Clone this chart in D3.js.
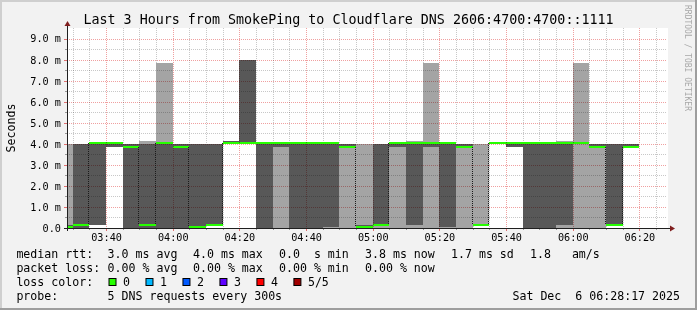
<!DOCTYPE html>
<html>
<head>
<meta charset="utf-8">
<script src="https://cdn.jsdelivr.net/npm/d3@7"></script>
<style>
  html, body { margin: 0; padding: 0; background: #f2f2f2; }
  svg { display: block; }
  text { font-family: 'DejaVu Sans Mono', monospace; fill: #000; white-space: pre; }
</style>
</head>
<body>
<svg id="chart" width="697" height="310"></svg>
<script>
// one column per 300s step, 5 DNS requests each, sorted low -> high (ms)
const stepEnds = ['03:30', '03:35', '03:40', '03:45', '03:50', '03:55', '04:00', '04:05', '04:10', '04:15',
  '04:20', '04:25', '04:30', '04:35', '04:40', '04:45', '04:50', '04:55', '05:00', '05:05',
  '05:10', '05:15', '05:20', '05:25', '05:30', '05:35', '05:40', '05:45', '05:50', '05:55',
  '06:00', '06:05', '06:10', '06:15', '06:20'];
const ping1 = [0, 0, 0.14, 3.87, 0, 0, 0, 0, 0, 0.12,
  4.0, 4.0, 0, 0, 0, 0, 0, 0, 0, 0,
  0, 0, 0, 0, 0, 0.14, 4.02, 3.87, 0, 0,
  0, 0, 0, 0.12, 3.87];
const ping2 = [0, 0, 0.14, 3.87, 0, 0, 0, 0, 0, 0.12,
  4.0, 4.0, 0, 3.87, 0, 0, 0.04, 3.87, 0.02, 0.09,
  3.87, 0.14, 3.87, 0.04, 3.87, 0.14, 4.02, 3.87, 0, 0,
  0.14, 4.02, 3.87, 0.12, 3.87];
const medianRtt = [0.04, 0.14, 4.02, 4.02, 3.87, 0.14, 4.02, 3.87, 0.03, 0.14,
  4.02, 4.02, 4.02, 4.02, 4.02, 4.02, 4.02, 3.87, 0.03, 0.14,
  4.02, 4.02, 4.02, 4.02, 3.87, 0.14, 4.02, 4.02, 4.02, 4.02,
  4.02, 4.02, 3.87, 0.14, 3.87];
const ping4 = [0.14, 4.0, 4.02, 4.02, 4.0, 4.0, 4.02, 4.0, 4.0, 4.0,
  4.14, 8.0, 4.02, 4.02, 4.02, 4.02, 4.02, 4.0, 0.14, 4.0,
  4.02, 4.02, 4.02, 4.02, 4.0, 0.14, 4.02, 4.02, 4.02, 4.02,
  4.02, 4.02, 4.0, 4.0, 4.0];
const ping5 = [4.0, 4.0, 4.02, 4.02, 4.0, 4.14, 7.86, 4.0, 4.0, 4.0,
  4.14, 8.0, 4.02, 4.02, 4.02, 4.02, 4.02, 4.0, 4.0, 4.0,
  4.02, 4.14, 7.86, 4.02, 4.0, 4.0, 4.02, 4.02, 4.02, 4.02,
  4.14, 7.86, 4.0, 4.0, 4.0];

const yTicks = [0, 1, 2, 3, 4, 5, 6, 7, 8, 9];
const xTickLabels = ['03:40', '04:00', '04:20', '04:40', '05:00', '05:20', '05:40', '06:00', '06:20'];

const lossLabels = ['0', '1', '2', '3', '4', '5/5'];
const lossColors = ['#26ff00', '#00b8ff', '#0059ff', '#5e00ff', '#ff0000', '#a10000'];

const rttStats = ['median rtt:', '3.0 ms avg', '4.0 ms max', '0.0  s min', '3.8 ms now', '1.7 ms sd', '1.8   am/s'];
const lossStats = ['packet loss:', '0.00 % avg', '0.00 % max', '0.00 % min', '0.00 % now'];
const probeText = ['probe:', '5 DNS requests every 300s'];
const stampText = 'Sat Dec  6 06:28:17 2025';
const titleText = 'Last 3 Hours from SmokePing to Cloudflare DNS 2606:4700:4700::1111';

const day = '2025-12-06 ';
const parseTime = d3.utcParse('%Y-%m-%d %H:%M:%S');
const t = s => parseTime(day + (s.length === 5 ? s + ':00' : s));
const start = t('03:28:17');
const end = t('06:28:17');

const plot = { left: 67, top: 28, right: 667, bottom: 228 };
const smokeLight = '#a4a4a4';
const smokeDark = '#585858';

const svg = d3.select('#chart');

// frame
svg.append('rect').attr('width', 697).attr('height', 310).attr('fill', '#f2f2f2');
svg.append('path').attr('d', 'M0,0H697V2H2V310H0Z').attr('fill', '#cfcfcf');
svg.append('path').attr('d', 'M697,0V310H0V308H695V0Z').attr('fill', '#9e9e9e');

const x = d3.scaleUtc().domain([start, end]).range([plot.left, plot.right]);
const y = d3.scaleLinear().domain([0, 9.5]).range([plot.bottom, plot.top]);

svg.append('rect')
  .attr('x', plot.left).attr('y', plot.top)
  .attr('width', plot.right - plot.left + 1).attr('height', plot.bottom - plot.top)
  .attr('fill', '#fff');

const minorTimes = d3.utcMinute.every(5).range(start, end);
const majorTimes = xTickLabels.map(t);
const isMajor = d => d.getUTCMinutes() % 20 === 0;

// vertical minor grid sits under the smoke
svg.append('g').selectAll('line')
  .data(minorTimes.filter(d => !isMajor(d)))
  .enter().append('line')
  .attr('x1', d => Math.round(x(d)) + 0.5).attr('x2', d => Math.round(x(d)) + 0.5)
  .attr('y1', plot.top).attr('y2', plot.bottom)
  .attr('stroke', '#c8c8c8').attr('stroke-dasharray', '1,1');

const cols = stepEnds.map((s, i) => {
  const e = t(s);
  return {
    x0: Math.max(plot.left, Math.round(x(d3.utcMinute.offset(e, -5)))),
    x1: Math.round(x(e)),
    p1: ping1[i], p2: ping2[i], med: medianRtt[i], p4: ping4[i], p5: ping5[i]
  };
});

const smoke = svg.append('g').attr('shape-rendering', 'crispEdges');

// outer band: lowest to highest ping
smoke.selectAll('.outer').data(cols).enter().append('rect')
  .attr('x', d => d.x0).attr('width', d => d.x1 - d.x0)
  .attr('y', d => Math.round(y(d.p5))).attr('height', d => Math.round(y(d.p1)) - Math.round(y(d.p5)))
  .attr('fill', smokeLight);

// inner band: 2nd to 4th ping
smoke.selectAll('.inner').data(cols).enter().append('rect')
  .attr('x', d => d.x0).attr('width', d => d.x1 - d.x0)
  .attr('y', d => Math.round(y(d.p4))).attr('height', d => Math.round(y(d.p2)) - Math.round(y(d.p4)))
  .attr('fill', smokeDark);

// median, coloured by loss (all zero here)
smoke.selectAll('.median').data(cols).enter().append('rect')
  .attr('x', d => d.x0).attr('width', d => d.x1 - d.x0)
  .attr('y', d => Math.round(y(d.med)) - 1).attr('height', 2)
  .attr('fill', lossColors[0]);

// the rest of the grid is painted over the graph
const grid = svg.append('g').style('mix-blend-mode', 'multiply');
grid.selectAll('.hmin').data(d3.range(0.5, 9.5, 1)).enter().append('line')
  .attr('x1', plot.left).attr('x2', plot.right)
  .attr('y1', d => Math.round(y(d)) + 0.5).attr('y2', d => Math.round(y(d)) + 0.5)
  .attr('stroke', '#c8c8c8').attr('stroke-dasharray', '1,1');
grid.selectAll('.hmaj').data(yTicks.slice(1)).enter().append('line')
  .attr('x1', plot.left).attr('x2', plot.right)
  .attr('y1', d => Math.round(y(d)) + 0.5).attr('y2', d => Math.round(y(d)) + 0.5)
  .attr('stroke', '#f0a0a0').attr('stroke-dasharray', '1,1');
grid.selectAll('.vmaj').data(majorTimes).enter().append('line')
  .attr('x1', d => Math.round(x(d)) + 0.5).attr('x2', d => Math.round(x(d)) + 0.5)
  .attr('y1', plot.top).attr('y2', plot.bottom)
  .attr('stroke', '#f0a0a0').attr('stroke-dasharray', '1,1');

// dark seams where the median jumps between steps
const jumps = cols.slice(1).map((d, i) => ({ x: d.x0, a: cols[i].med, b: d.med }))
  .filter(d => Math.abs(d.a - d.b) > 1);
svg.append('g').selectAll('line').data(jumps).enter().append('line')
  .attr('x1', d => d.x - 0.5).attr('x2', d => d.x - 0.5)
  .attr('y1', d => Math.round(y(Math.max(d.a, d.b)))).attr('y2', d => Math.round(y(Math.min(d.a, d.b))))
  .attr('stroke', '#1a1a1a').attr('stroke-dasharray', '1,1');

// axes
const xAxis = d3.axisBottom(x)
  .tickValues(majorTimes)
  .tickFormat(d3.utcFormat('%H:%M'))
  .tickSize(0);
const gx = svg.append('g').attr('transform', `translate(0,${plot.bottom})`).call(xAxis);
gx.select('.domain').remove();
gx.selectAll('text').attr('y', 12.5).attr('dy', null)
  .style('font-family', "'DejaVu Sans Mono', monospace").style('font-size', '10.2px');

const yAxis = d3.axisLeft(y)
  .tickValues(yTicks)
  .tickFormat(d => d === 0 ? '0.0' : d.toFixed(1) + ' m')
  .tickSize(0);
const gy = svg.append('g').attr('transform', `translate(${plot.left},0)`).call(yAxis);
gy.select('.domain').remove();
gy.selectAll('text').attr('x', -6).attr('dy', '0.34em')
  .style('font-family', "'DejaVu Sans Mono', monospace").style('font-size', '10.2px');

// small ticks on the axes
svg.append('g').selectAll('line').data(d3.range(0, 9.5, 0.5)).enter().append('line')
  .attr('x1', d => plot.left - (d % 1 === 0 ? 3 : 2)).attr('x2', plot.left)
  .attr('y1', d => Math.round(y(d)) + 0.5).attr('y2', d => Math.round(y(d)) + 0.5)
  .attr('stroke', d => d % 1 === 0 ? '#e07070' : '#999');
svg.append('g').selectAll('line').data(minorTimes).enter().append('line')
  .attr('x1', d => Math.round(x(d)) + 0.5).attr('x2', d => Math.round(x(d)) + 0.5)
  .attr('y1', plot.bottom).attr('y2', d => plot.bottom + (isMajor(d) ? 3 : 2))
  .attr('stroke', d => isMajor(d) ? '#e07070' : '#999');

svg.append('line').attr('x1', plot.left + 0.5).attr('x2', plot.left + 0.5)
  .attr('y1', plot.bottom + 3).attr('y2', plot.top - 4).attr('stroke', '#1f1f1f');
svg.append('line').attr('x1', plot.left - 3).attr('x2', plot.right + 4)
  .attr('y1', plot.bottom + 0.5).attr('y2', plot.bottom + 0.5).attr('stroke', '#1f1f1f');
svg.append('path')
  .attr('d', `M${plot.left + 0.5},${plot.top - 7}L${plot.left + 3.5},${plot.top - 2}L${plot.left - 2.5},${plot.top - 2}Z`)
  .attr('fill', '#801f1f');
svg.append('path')
  .attr('d', `M${plot.right + 8},${plot.bottom + 0.5}L${plot.right + 3},${plot.bottom - 2.5}L${plot.right + 3},${plot.bottom + 3.5}Z`)
  .attr('fill', '#801f1f');

// texts
svg.append('text').attr('x', 348.5).attr('y', 23.5).attr('text-anchor', 'middle')
  .style('font-size', '13.35px').text(titleText);
svg.append('text').attr('transform', 'translate(15,128) rotate(-90)').attr('text-anchor', 'middle')
  .style('font-size', '11.6px').text('Seconds');
svg.append('text').attr('transform', 'translate(684.5,5) rotate(90)')
  .style('font-size', '8px').style('fill', '#a8a8a8').text('RRDTOOL / TOBI OETIKER');

const legendCols = [16.4, 107.6, 193, 279, 365, 451, 530];
const legend = svg.append('g').style('font-size', '11.6px');
legend.selectAll('.rtt').data(rttStats).enter().append('text')
  .attr('x', (d, i) => legendCols[i]).attr('y', 257.5).text(d => d);
legend.selectAll('.loss').data(lossStats).enter().append('text')
  .attr('x', (d, i) => legendCols[i]).attr('y', 271.5).text(d => d);
legend.append('text').attr('x', legendCols[0]).attr('y', 285.5).text('loss color:');
const lossItem = legend.selectAll('.lc').data(lossLabels).enter().append('g')
  .attr('transform', (d, i) => `translate(${108.5 + i * 36.98},0)`);
lossItem.append('rect').attr('x', 0.5).attr('y', 278.5).attr('width', 7).attr('height', 7)
  .attr('fill', (d, i) => lossColors[i]).attr('stroke', '#000');
lossItem.append('text').attr('x', 14.5).attr('y', 285.5).text(d => d);
legend.selectAll('.probe').data(probeText).enter().append('text')
  .attr('x', (d, i) => legendCols[i]).attr('y', 299.5).text(d => d);
legend.append('text').attr('x', 680).attr('y', 299.5).attr('text-anchor', 'end').text(stampText);
</script>
</body>
</html>
